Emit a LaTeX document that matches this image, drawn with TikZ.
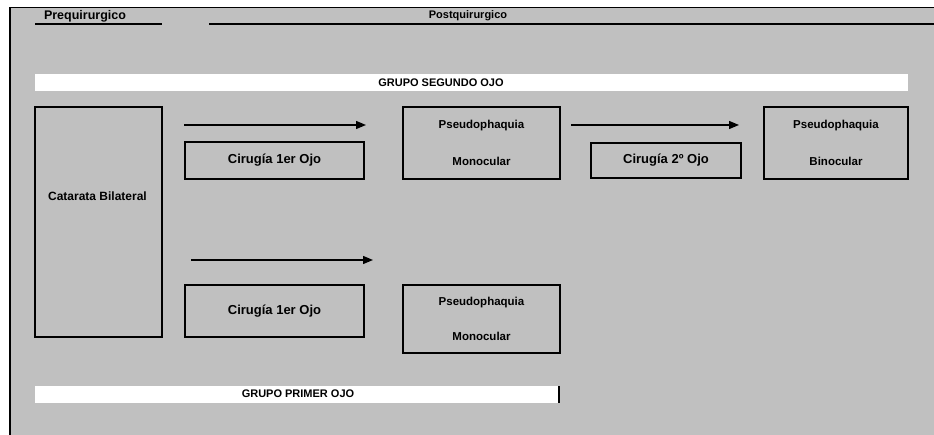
\documentclass[tikz,border=0pt]{standalone}
\usepackage{fontspec}
\setmainfont{Liberation Sans}
\usetikzlibrary{arrows.meta}
\definecolor{bg}{RGB}{192,192,192}
\begin{document}
\begin{tikzpicture}[x=1pt,y=-1pt,
  box/.style={draw=black,line width=1.5pt,fill=bg,inner sep=0pt,align=center,
    font=\bfseries\fontsize{11.5}{13}\selectfont},
  bigbox/.style={box,font=\bfseries\fontsize{13}{15}\selectfont},
  lbl/.style={inner sep=0pt,font=\bfseries\fontsize{11}{13}\selectfont},
  band/.style={fill=white,draw=none,inner sep=0pt,anchor=north west},
  arr/.style={line width=1.3pt,-{Triangle[length=10pt,width=8pt]}}]
\useasboundingbox (0,0) rectangle (934,435);
% background and frame
\fill[bg] (10,8) rectangle (934,435);
\draw[line width=1pt] (934,8) -- (10,8);
\draw[line width=2pt] (10,7.5) -- (10,435);
\draw[line width=2pt] (35,24.5) -- (162,24.5);
\draw[line width=2pt] (209,24.5) -- (934,24.5);
\node[lbl,font=\bfseries\fontsize{12.5}{14}\selectfont] (pre) at (85,16) {Prequirurgico};
\node[lbl] (post) at (468,16) {Postquirurgico};
% bands
\node[band,minimum width=873pt,minimum height=16.5pt] (bandseg) at (35,74) {};
\node[lbl] (segtxt) at (441,82.5) {GRUPO SEGUNDO OJO};
\node[band,minimum width=524pt,minimum height=16.5pt] (bandpri) at (35,386) {};
\node[lbl] (pritxt) at (298,394) {GRUPO PRIMER OJO};
\draw[line width=2pt] (559,386) -- (559,402.5);
% boxes
\node[box,minimum width=127pt,minimum height=230pt] (cat) at (98.5,222) {};
\node[lbl,font=\bfseries\fontsize{12}{14}\selectfont] (cattxt) at (97.5,196) {Catarata Bilateral};
\node[bigbox,minimum width=179pt,minimum height=37pt] (cir1) at (274.5,160.5) {Cirug\'{\i}a 1er Ojo};
\node[box,minimum width=157pt,minimum height=72pt] (psm1) at (481.5,143) {Pseudophaquia\\[24pt]Monocular};
\node[bigbox,minimum width=150pt,minimum height=35pt] (cir2) at (666,160.5) {Cirug\'{\i}a 2º Ojo};
\node[box,minimum width=144pt,minimum height=72pt] (psb) at (836,143) {Pseudophaquia\\[24pt]Binocular};
\node[bigbox,minimum width=179pt,minimum height=52pt] (cir1b) at (274.5,311) {Cirug\'{\i}a 1er Ojo};
\node[box,minimum width=157pt,minimum height=68pt] (psm2) at (481.5,319) {Pseudophaquia\\[22pt]Monocular};
% arrows
\coordinate (a1s) at (184,125);
\coordinate (a1e) at (366,125);
\coordinate (a2s) at (571,125);
\coordinate (a2e) at (739,125);
\coordinate (a3s) at (191,260);
\coordinate (a3e) at (373,260);
\draw[arr] (a1s) -- (a1e);
\draw[arr] (a2s) -- (a2e);
\draw[arr] (a3s) -- (a3e);
\end{tikzpicture}
\end{document}
